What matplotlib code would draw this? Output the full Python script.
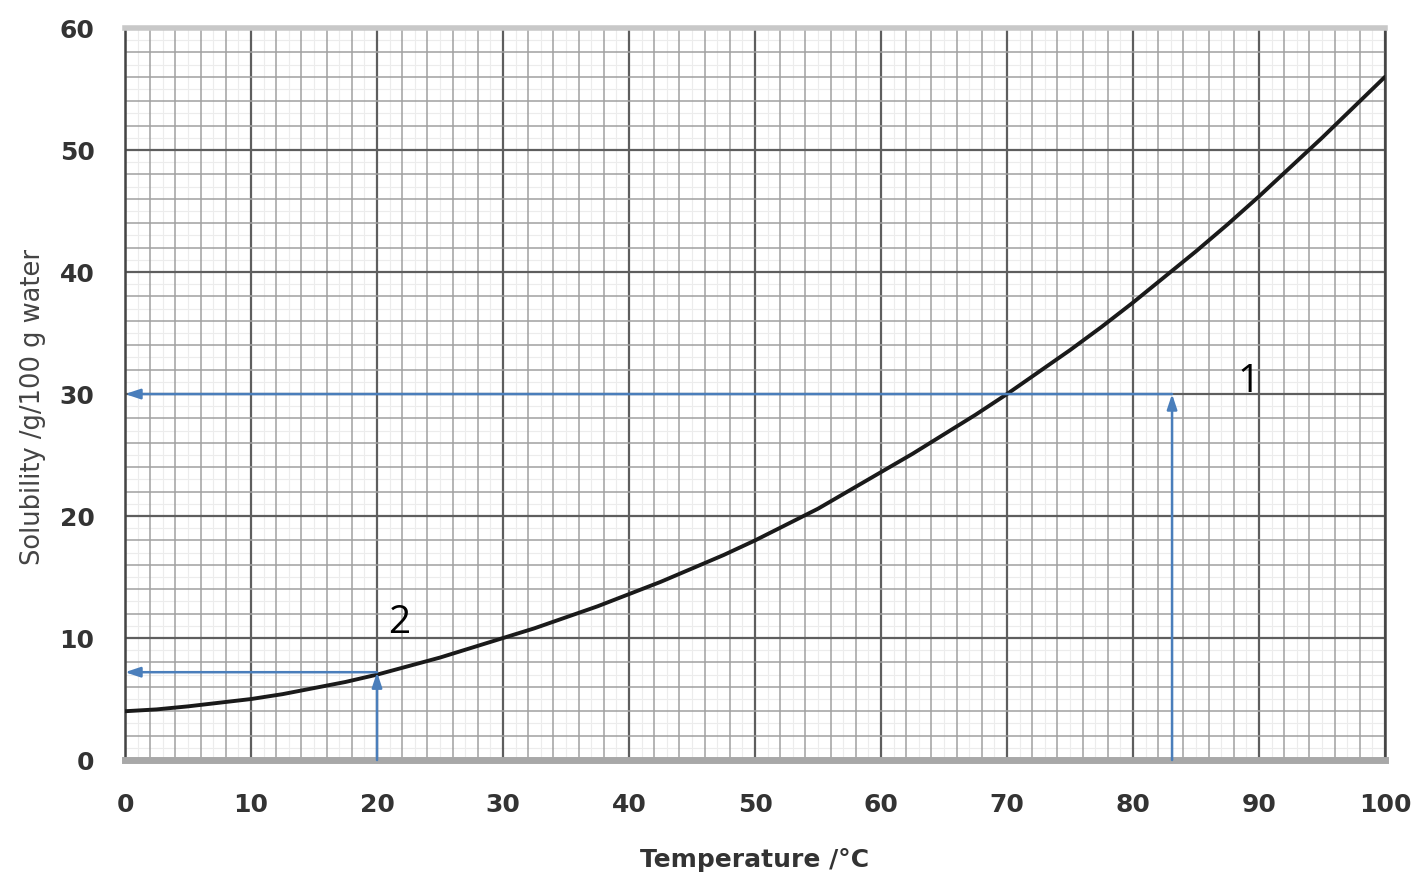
import matplotlib
matplotlib.use("Agg")
import matplotlib.pyplot as plt
from matplotlib.ticker import MultipleLocator

# Data
temperature = [0, 2.5, 5, 7.5, 10, 12.5, 15, 17.5, 20, 22.5, 25, 27.5, 30, 32.5, 35, 37.5,
               40, 42.5, 45, 47.5, 50, 52.5, 55, 57.5, 60, 62.5, 65, 67.5, 70, 72.5, 75,
               77.5, 80, 82.5, 85, 87.5, 90, 92.5, 95, 97.5, 100]
solubility = [4.0, 4.15, 4.4, 4.7, 5.0, 5.4, 5.9, 6.4, 7.0, 7.7, 8.4, 9.2, 10.0, 10.8, 11.7, 12.6,
              13.6, 14.6, 15.7, 16.8, 18.0, 19.3, 20.6, 22.1, 23.6, 25.1, 26.7, 28.3, 30.0, 31.8, 33.6,
              35.5, 37.5, 39.6, 41.7, 43.9, 46.2, 48.6, 51.0, 53.5, 56.0]

x_ticks = [0, 10, 20, 30, 40, 50, 60, 70, 80, 90, 100]
y_ticks = [0, 10, 20, 30, 40, 50, 60]

# reading lines: (temperature, solubility)
reading1 = (83.1, 30.0)
reading2 = (20.0, 7.2)
label1 = ("1", 88.3, 30.2)
label2 = ("2", 20.9, 10.4)

blue = "#4a7ebb"
cond = ["DejaVu Sans Condensed", "DejaVu Sans"]

fig = plt.figure(figsize=(14.16, 8.85), dpi=100)
ax = fig.add_axes([0.0883, 0.1412, 0.8898, 0.8271])
ax.set_xlim(0, 100)
ax.set_ylim(0, 60)

ax.xaxis.set_minor_locator(MultipleLocator(2))
ax.yaxis.set_minor_locator(MultipleLocator(2))
ax.set_xticks(x_ticks)
ax.set_yticks(y_ticks)

# faint 1-unit lines
for v in range(1, 100, 2):
    ax.axvline(v, color="#ececec", lw=0.8, zorder=0)
for v in range(1, 60, 2):
    ax.axhline(v, color="#ececec", lw=0.8, zorder=0)

ax.grid(which="minor", color="#a0a0a0", lw=1.1, zorder=1)
ax.grid(which="major", color="#5e5e5e", lw=1.6, zorder=1)
ax.set_axisbelow(True)

ax.tick_params(which="both", length=0)
ax.tick_params(axis="x", pad=24)
ax.tick_params(axis="y", pad=22)
for lab in ax.get_xticklabels() + ax.get_yticklabels():
    lab.set_fontweight("bold")
    lab.set_fontsize(18)
    lab.set_family(cond)
    lab.set_color("#333333")

for s in ["left", "right"]:
    ax.spines[s].set_color("#444444")
    ax.spines[s].set_linewidth(1.8)
ax.spines["top"].set_color("#c8c8c8")
ax.spines["top"].set_linewidth(4)
ax.spines["bottom"].set_color("#a8a8a8")
ax.spines["bottom"].set_linewidth(5)

ax.plot(temperature, solubility, color="#1a1a1a", lw=2.8, zorder=3, solid_capstyle="round")

arrow_kw = dict(arrowstyle="-|>,head_length=0.9,head_width=0.3", color=blue, lw=1.8,
                shrinkA=0, shrinkB=0)
for tx, sy in [reading1, reading2]:
    ax.annotate("", xy=(tx, sy), xytext=(tx, 0), arrowprops=arrow_kw, zorder=4)
    ax.annotate("", xy=(0, sy), xytext=(tx, sy), arrowprops=arrow_kw, zorder=4)

for txt, lx, ly in [label1, label2]:
    ax.text(lx, ly, txt, fontsize=28, color="black", family="Open Sans", zorder=5)

ax.set_xlabel("Temperature /\u00b0C", fontsize=18, fontweight="bold", color="#333333",
              labelpad=22, family=cond)
ax.set_ylabel("Solubility /g/100 g water", fontsize=18.5, color="#444444", family=cond)
ax.yaxis.set_label_coords(-0.063, 0.482)

fig.savefig("out.png", dpi=100)
